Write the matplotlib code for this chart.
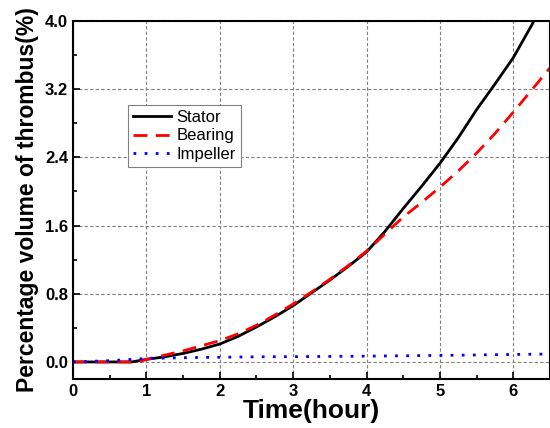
import numpy as np
import matplotlib.pyplot as plt
from matplotlib.ticker import MultipleLocator

plt.rcParams['font.family'] = ['Liberation Sans', 'DejaVu Sans']

# time (hour)
t_stator = [0, 0.5, 0.8, 1.0, 1.25, 1.5, 1.75, 2.0, 2.25, 2.5, 2.75, 3.0, 3.25, 3.5, 3.75, 4.0,
            4.25, 4.5, 4.75, 5.0, 5.25, 5.5, 5.75, 6.0, 6.25, 6.28]
stator = [0, 0, 0, 0.03, 0.06, 0.1, 0.15, 0.21, 0.3, 0.41, 0.53, 0.66, 0.81, 0.96, 1.12, 1.29,
          1.53, 1.8, 2.06, 2.33, 2.63, 2.96, 3.26, 3.57, 3.95, 4.0]

t_bearing = [0, 0.5, 0.9, 1.0, 1.25, 1.5, 1.75, 2.0, 2.25, 2.5, 2.75, 3.0, 3.25, 3.5, 3.75, 4.0,
             4.25, 4.5, 4.75, 5.0, 5.25, 5.5, 5.75, 6.0, 6.25, 6.5]
bearing = [0, 0, 0, 0.03, 0.08, 0.13, 0.19, 0.25, 0.33, 0.43, 0.55, 0.68, 0.82, 0.97, 1.13, 1.3,
           1.5, 1.7, 1.87, 2.05, 2.24, 2.45, 2.68, 2.93, 3.19, 3.45]

t_impeller = [0, 0.5, 1.0, 1.5, 2.0, 2.5, 3.0, 3.5, 4.0, 4.5, 5.0, 5.5, 6.0, 6.5]
impeller = [0, 0.015, 0.04, 0.05, 0.055, 0.06, 0.062, 0.065, 0.068, 0.072, 0.077, 0.082, 0.088, 0.093]

fig = plt.figure(figsize=(5.5, 4.28), dpi=100)
ax = fig.add_axes([0.1327, 0.1145, 0.8673, 0.8365])

ax.plot(t_stator, stator, color='black', linewidth=2, label='Stator')
ax.plot(t_bearing, bearing, color='red', linewidth=2, linestyle=(0, (5, 3)), label='Bearing')
ax.plot(t_impeller, impeller, color='blue', linewidth=2, linestyle=(0, (1, 3)), label='Impeller')

ax.set_xlim(0, 6.5)
ax.set_ylim(-0.2, 4.0)
ax.xaxis.set_major_locator(MultipleLocator(1))
ax.xaxis.set_minor_locator(MultipleLocator(0.5))
ax.yaxis.set_minor_locator(MultipleLocator(0.4))
ax.set_yticks([0.0, 0.8, 1.6, 2.4, 3.2, 4.0])
ax.set_yticklabels(['0.0', '0.8', '1.6', '2.4', '3.2', '4.0'])
ax.tick_params(which='both', direction='in', top=False, right=False)
ax.tick_params(which='major', length=5, width=1.2, labelsize=12)
ax.tick_params(which='minor', length=3, width=1.2)
for lbl in ax.get_xticklabels() + ax.get_yticklabels():
    lbl.set_fontweight('bold')

ax.grid(True, which='major', linestyle=(0, (3, 2)), color='gray', linewidth=0.8)
for s in ax.spines.values():
    s.set_linewidth(1.5)

ax.set_xlabel('Time(hour)', fontsize=19, fontweight='bold', labelpad=0)
ax.set_ylabel('Percentage volume of thrombus(%)', fontsize=16.5, fontweight='bold', labelpad=4)

leg = ax.legend(loc='upper left', bbox_to_anchor=(0.115, 0.765), fontsize=12,
                fancybox=False, framealpha=1, edgecolor='gray', handlelength=2.3,
                borderpad=0.3, labelspacing=0.2, handletextpad=0.3, borderaxespad=0)
leg.get_frame().set_linewidth(0.8)

fig.savefig('out.png', dpi=100)
